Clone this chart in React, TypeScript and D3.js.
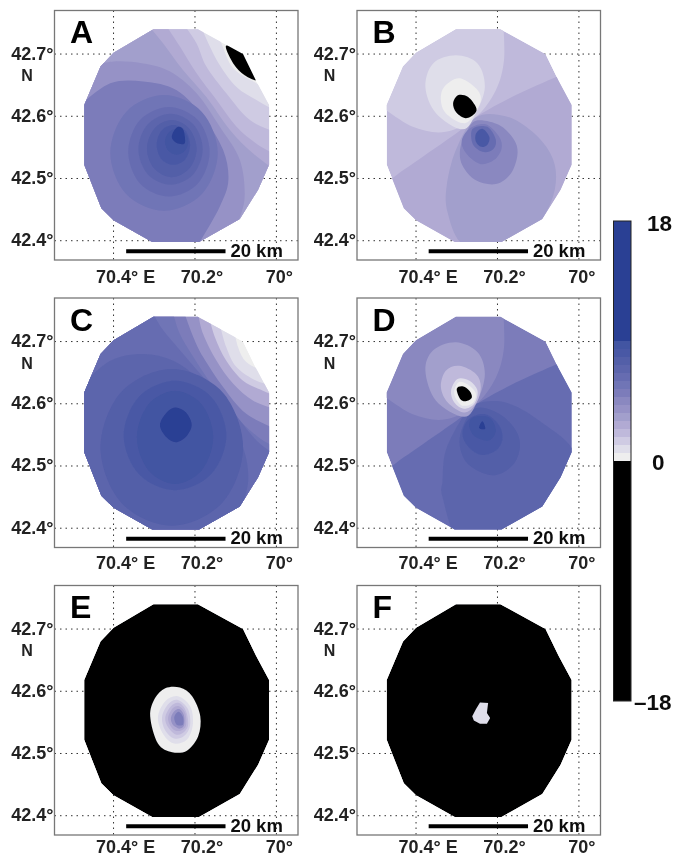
import React from "react";
import * as d3 from "d3";

type Pt = [number, number];
type Band = { v: number; pts: Pt[]; close?: Pt[]; straight?: boolean };

const lonTicks = [70.4, 70.2, 70.0];
const lonLabels = ["70.4° E", "70.2°", "70°"];
const lonLabelShift = [12, 7, 3];
const latTicks = [42.7, 42.6, 42.5, 42.4];
const latLabels = ["42.7°", "42.6°", "42.5°", "42.4°"];
const colorbarTicks = [18, 0, -18];
const colorbarLabels = ["18", "0", "–18"];

const thresholds = [0, 0.6, 1.2, 1.8, 2.4, 3, 3.6, 4.2, 4.8, 5.4, 6, 6.6, 7.2, 7.8, 8.4, 9];
const levelColors = ["#040506", "#eeeeee", "#dfdeea", "#cfcbe3", "#bfb9db", "#b1aad3", "#a29fcc", "#9692c6", "#8a88c0", "#7b7cba", "#7074b6", "#666cb1", "#5c65ac", "#525ea8", "#4a59a5", "#4255a2", "#2b3f94"];

const networkOutline: Pt[] = [[70.302,42.74],[70.193,42.74],[70.082,42.7],[70.05,42.657],[70.018,42.618],[70.018,42.522],[70.045,42.482],[70.09,42.435],[70.19,42.398],[70.305,42.398],[70.4,42.433],[70.43,42.452],[70.472,42.522],[70.472,42.618],[70.432,42.68],[70.4,42.702]];
const farCorners: Pt[] = [[69.93,42.33],[70.6,42.33],[70.6,42.78]];
const lowerCorners: Pt[] = [[69.93,42.33],[70.6,42.33],[70.6,42.489]];
const upperLeftCorners: Pt[] = [[70.6,42.78],[70.6,42.618]];

const sectorUpperLeft: Pt[] = [[70.49,42.618],[70.408,42.583],[70.327,42.575],[70.253,42.599],[70.204,42.642],[70.184,42.69],[70.186,42.749]];
const sectorLower: Pt[] = [[70.482,42.489],[70.449,42.505],[70.359,42.546],[70.286,42.58],[70.245,42.602],[70.155,42.634],[70.053,42.664],[69.984,42.682]];

const bandsA: Band[] = [
  { v: 0.3, pts: networkOutline, straight: true },
  { v: 0.9, close: farCorners, pts: [[70.155,42.749],[70.135,42.717],[70.106,42.677],[70.049,42.653],[69.992,42.634]] },
  { v: 1.5, close: farCorners, pts: [[70.188,42.749],[70.167,42.717],[70.139,42.682],[70.098,42.647],[70.049,42.626],[69.992,42.605]] },
  { v: 2.1, close: farCorners, pts: [[70.229,42.749],[70.196,42.717],[70.172,42.68],[70.123,42.637],[70.065,42.594],[69.992,42.572]] },
  { v: 2.7, close: farCorners, pts: [[70.274,42.749],[70.237,42.712],[70.196,42.669],[70.147,42.626],[70.098,42.583],[70.049,42.556],[69.992,42.535]] },
  { v: 3.3, close: farCorners, pts: [[70.318,42.749],[70.278,42.717],[70.229,42.674],[70.172,42.631],[70.114,42.578],[70.057,42.54],[69.992,42.508]] },
  { v: 3.9, close: farCorners, pts: [[70.457,42.68],[70.4,42.688],[70.327,42.685],[70.261,42.672],[70.196,42.637],[70.139,42.583],[70.09,42.53],[70.078,42.471],[70.094,42.428],[70.114,42.379]] },
  { v: 4.8, close: farCorners, pts: [[70.482,42.618],[70.408,42.653],[70.327,42.656],[70.245,42.642],[70.18,42.599],[70.131,42.546],[70.118,42.497],[70.139,42.455],[70.188,42.398],[70.212,42.374]] },
  { v: 5.7, pts: [[70.408,42.541],[70.369,42.607],[70.276,42.634],[70.183,42.607],[70.144,42.541],[70.183,42.475],[70.276,42.448],[70.369,42.475]] },
  { v: 6.3, pts: [[70.364,42.543],[70.335,42.594],[70.264,42.615],[70.193,42.594],[70.164,42.543],[70.193,42.492],[70.264,42.471],[70.335,42.492]] },
  { v: 6.9, pts: [[70.339,42.547],[70.316,42.587],[70.26,42.604],[70.204,42.587],[70.181,42.547],[70.204,42.507],[70.26,42.49],[70.316,42.507]] },
  { v: 7.5, pts: [[70.318,42.548],[70.3,42.58],[70.257,42.594],[70.214,42.58],[70.196,42.548],[70.214,42.516],[70.257,42.502],[70.3,42.516]] },
  { v: 8.1, pts: [[70.294,42.554],[70.282,42.577],[70.253,42.586],[70.224,42.577],[70.212,42.554],[70.224,42.531],[70.253,42.522],[70.282,42.531]] },
  { v: 8.7, pts: [[70.274,42.559],[70.265,42.574],[70.245,42.58],[70.225,42.574],[70.216,42.559],[70.225,42.544],[70.245,42.538],[70.265,42.544]] },
  { v: 10, pts: [[70.257,42.567],[70.245,42.582],[70.23,42.58],[70.225,42.567],[70.226,42.556],[70.245,42.557]] },
  { v: -1, pts: [[70.124,42.713],[70.09,42.706],[70.065,42.688],[70.047,42.659],[70.078,42.666],[70.106,42.685]] },
];

const bandsB: Band[] = [
  { v: 2.1, pts: networkOutline, straight: true },
  { v: 1.5, pts: sectorUpperLeft, close: upperLeftCorners },
  { v: 2.7, pts: sectorLower, close: lowerCorners },
  { v: 3.3, pts: [[70.253,42.598],[70.18,42.6],[70.114,42.575],[70.07,42.54],[70.056,42.503],[70.07,42.46],[70.114,42.417],[70.196,42.39],[70.286,42.395],[70.322,42.444],[70.325,42.487],[70.302,42.546]] },
  { v: 4.5, pts: [[70.253,42.593],[70.196,42.586],[70.159,42.562],[70.151,42.538],[70.167,42.508],[70.204,42.491],[70.253,42.497],[70.286,42.521],[70.292,42.546],[70.278,42.572]] },
  { v: 5.1, pts: [[70.269,42.58],[70.229,42.587],[70.196,42.567],[70.19,42.548],[70.208,42.53],[70.241,42.523],[70.274,42.538],[70.288,42.559]] },
  { v: 6.3, pts: [[70.261,42.58],[70.225,42.583],[70.204,42.562],[70.212,42.546],[70.237,42.543],[70.261,42.556]] },
  { v: 8.1, pts: [[70.253,42.572],[70.237,42.58],[70.22,42.567],[70.225,42.554],[70.241,42.551],[70.253,42.559]] },
  { v: 0.9, pts: [[70.377,42.647],[70.358,42.685],[70.302,42.698],[70.249,42.685],[70.231,42.647],[70.253,42.605],[70.286,42.579],[70.351,42.605]] },
  { v: 0.3, pts: [[70.339,42.626],[70.331,42.647],[70.294,42.661],[70.253,42.645],[70.241,42.626],[70.261,42.599],[70.286,42.589],[70.327,42.605]] },
  { v: -1, pts: [[70.309,42.621],[70.296,42.634],[70.272,42.631],[70.253,42.615],[70.255,42.605],[70.278,42.597],[70.301,42.606]] },
];

const bandsC: Band[] = [
  { v: 0.3, pts: networkOutline, straight: true },
  { v: 0.9, close: farCorners, pts: [[70.106,42.728],[70.094,42.691],[70.074,42.667],[70.033,42.653],[69.992,42.643]] },
  { v: 1.5, close: farCorners, pts: [[70.139,42.728],[70.123,42.691],[70.098,42.659],[70.049,42.637],[69.992,42.627]] },
  { v: 2.7, close: farCorners, pts: [[70.167,42.744],[70.151,42.707],[70.123,42.669],[70.082,42.637],[70.033,42.621],[69.992,42.61]] },
  { v: 3.9, close: farCorners, pts: [[70.192,42.744],[70.18,42.712],[70.147,42.669],[70.106,42.632],[70.057,42.605],[69.992,42.589]] },
  { v: 5.1, close: farCorners, pts: [[70.225,42.744],[70.204,42.707],[70.18,42.675],[70.131,42.627],[70.074,42.584],[69.992,42.557]] },
  { v: 5.7, close: farCorners, pts: [[70.253,42.744],[70.237,42.712],[70.204,42.675],[70.155,42.627],[70.09,42.573],[70.033,42.541],[69.992,42.53]] },
  { v: 6.3, close: farCorners, pts: [[70.302,42.744],[70.278,42.718],[70.237,42.686],[70.18,42.643],[70.114,42.594],[70.049,42.541],[69.992,42.514]] },
  { v: 6.9, close: farCorners, pts: [[70.482,42.627],[70.408,42.669],[70.327,42.68],[70.253,42.669],[70.188,42.637],[70.123,42.584],[70.082,42.53],[70.069,42.482],[70.082,42.439],[70.114,42.369]] },
  { v: 7.5, pts: [[70.432,42.53],[70.381,42.619],[70.257,42.656],[70.133,42.619],[70.082,42.53],[70.133,42.441],[70.257,42.404],[70.381,42.441]] },
  { v: 8.1, pts: [[70.375,42.549],[70.338,42.611],[70.249,42.637],[70.16,42.611],[70.123,42.549],[70.16,42.487],[70.249,42.461],[70.338,42.487]] },
  { v: 8.7, pts: [[70.343,42.546],[70.315,42.599],[70.249,42.621],[70.183,42.599],[70.155,42.546],[70.183,42.493],[70.249,42.471],[70.315,42.493]] },
  { v: 10, pts: [[70.286,42.566],[70.268,42.587],[70.247,42.594],[70.222,42.586],[70.208,42.566],[70.222,42.547],[70.247,42.538],[70.27,42.546]] },
];

const bandsD: Band[] = [
  { v: 5.1, pts: networkOutline, straight: true },
  { v: 4.5, pts: sectorUpperLeft, close: upperLeftCorners },
  { v: 6.3, pts: sectorLower, close: lowerCorners },
  { v: 6.9, pts: [[70.253,42.6],[70.18,42.602],[70.098,42.573],[70.008,42.514],[70.057,42.418],[70.196,42.375],[70.294,42.38],[70.335,42.45],[70.335,42.476],[70.327,42.525],[70.286,42.578]] },
  { v: 7.5, pts: [[70.253,42.593],[70.196,42.584],[70.155,42.557],[70.145,42.53],[70.163,42.501],[70.212,42.485],[70.269,42.501],[70.292,42.53],[70.286,42.562]] },
  { v: 8.1, pts: [[70.269,42.576],[70.229,42.583],[70.196,42.565],[70.188,42.543],[70.204,42.525],[70.241,42.518],[70.274,42.533],[70.286,42.554]] },
  { v: 8.7, pts: [[70.261,42.578],[70.22,42.578],[70.204,42.557],[70.22,42.541],[70.253,42.546],[70.269,42.562]] },
  { v: 10, pts: [[70.245,42.561],[70.237,42.572],[70.23,42.56]] },
  { v: 3.3, pts: [[70.377,42.653],[70.358,42.686],[70.302,42.699],[70.249,42.683],[70.231,42.648],[70.249,42.605],[70.282,42.579],[70.351,42.605]] },
  { v: 2.1, pts: [[70.339,42.627],[70.327,42.653],[70.294,42.661],[70.253,42.648],[70.241,42.627],[70.253,42.6],[70.282,42.586],[70.322,42.602]] },
  { v: 0.9, pts: [[70.314,42.621],[70.298,42.64],[70.269,42.637],[70.249,42.621],[70.257,42.6],[70.282,42.592],[70.306,42.602]] },
  { v: 0.3, pts: [[70.306,42.621],[70.294,42.635],[70.269,42.629],[70.253,42.616],[70.261,42.601],[70.286,42.597],[70.302,42.608]] },
  { v: -1, pts: [[70.3,42.624],[70.286,42.628],[70.269,42.621],[70.263,42.61],[70.278,42.604],[70.292,42.608]] },
];

const bandsE: Band[] = [
  { v: -1, pts: networkOutline, straight: true },
  { v: 0.3, pts: [[70.31,42.56],[70.298,42.589],[70.273,42.605],[70.237,42.606],[70.207,42.592],[70.187,42.56],[70.192,42.528],[70.219,42.505],[70.256,42.502],[70.291,42.516]] },
  { v: 0.9, pts: [[70.291,42.558],[70.273,42.584],[70.242,42.592],[70.212,42.576],[70.205,42.548],[70.219,42.523],[70.251,42.516],[70.278,42.531]] },
  { v: 1.5, pts: [[70.281,42.558],[70.266,42.579],[70.242,42.586],[70.217,42.571],[70.212,42.545],[70.227,42.528],[70.251,42.524],[70.273,42.537]] },
  { v: 2.1, pts: [[70.273,42.558],[70.259,42.576],[70.239,42.581],[70.222,42.568],[70.217,42.545],[70.232,42.532],[70.249,42.531],[70.266,42.542]] },
  { v: 2.7, pts: [[70.266,42.558],[70.254,42.573],[70.239,42.576],[70.224,42.565],[70.222,42.545],[70.234,42.537],[70.249,42.537],[70.261,42.545]] },
  { v: 3.9, pts: [[70.259,42.558],[70.249,42.569],[70.237,42.571],[70.227,42.561],[70.227,42.545],[70.237,42.54],[70.246,42.542],[70.256,42.548]] },
  { v: 5.1, pts: [[70.251,42.558],[70.244,42.566],[70.237,42.566],[70.229,42.558],[70.229,42.547],[70.237,42.545],[70.246,42.547]] },
];

const bandsF: Band[] = [
  { v: -1, pts: networkOutline, straight: true },
  { v: 0.9, straight: true, pts: [[70.262,42.56],[70.253,42.571],[70.243,42.582],[70.223,42.581],[70.226,42.565],[70.218,42.557],[70.226,42.548],[70.243,42.548],[70.258,42.553]] },
];

const panelNames = ["A", "B", "C", "D", "E", "F"];
const panelBands = [bandsA, bandsB, bandsC, bandsD, bandsE, bandsF];
const panelLefts = [54.5, 357, 54.5, 357, 54.5, 357];
const panelTops = [10.5, 10.5, 298, 298, 585.5, 585.5];
const lonLabelDrops = [23, 23, 21, 21, 18, 18];

const W = 243.5;
const H = 249.5;
const FONT = "'Liberation Sans', Arial, sans-serif";
const color = d3.scaleThreshold<number, string>().domain(thresholds).range(levelColors);

function Panel({ index }: { index: number }) {
  const left = panelLefts[index];
  const top = panelTops[index];
  const x = d3.scaleLinear().domain([70.545, 69.947]).range([left, left + W]);
  const y = d3.scaleLinear().domain([42.77, 42.369]).range([top, top + H]);
  const name = panelNames[index];
  const gen = (curve: d3.CurveFactory) =>
    d3.line<Pt>().x((d) => x(d[0])).y((d) => y(d[1])).curve(curve);
  const closedSmooth = gen(d3.curveCatmullRomClosed.alpha(0));
  const openSmooth = gen(d3.curveCatmullRom.alpha(0));
  const straight = gen(d3.curveLinearClosed);
  const pathOf = (b: Band) => {
    if (b.close) {
      const tail = b.close.map((p) => `L${x(p[0])},${y(p[1])}`).join("");
      return `${openSmooth(b.pts)}${tail}Z`;
    }
    return (b.straight ? straight(b.pts) : closedSmooth(b.pts)) as string;
  };
  const clipId = `clip-${name}`;
  return (
    <g>
      <defs>
        <clipPath id={clipId}>
          <path d={straight(networkOutline) as string} />
        </clipPath>
      </defs>
      <rect x={left} y={top} width={W} height={H} fill="#fff" />
      {lonTicks.map((t) => (
        <line key={t} x1={x(t)} x2={x(t)} y1={top} y2={top + H} stroke="#333" strokeWidth={1} strokeDasharray="1.5 4" />
      ))}
      {latTicks.map((t) => (
        <line key={t} x1={left} x2={left + W} y1={y(t)} y2={y(t)} stroke="#333" strokeWidth={1} strokeDasharray="1.5 4" />
      ))}
      <g clipPath={`url(#${clipId})`}>
        {panelBands[index].map((b, i) => (
          <path key={i} d={pathOf(b)} fill={color(b.v)} />
        ))}
      </g>
      <rect x={left} y={top} width={W} height={H} fill="none" stroke="#777" strokeWidth={1.3} />
      <line x1={x(70.369)} x2={x(70.125)} y1={y(42.383)} y2={y(42.383)} stroke="#000" strokeWidth={4} />
      <text x={x(70.113)} y={y(42.374)} fontSize={18.5} fontWeight={700} fontFamily={FONT} fill="#111">20 km</text>
      <text x={left + 15.5} y={top + 32.5} fontSize={32} fontWeight={700} fontFamily={FONT} fill="#000">{name}</text>
      {latTicks.map((t, i) => (
        <text key={t} x={left - 1} y={y(t) + 5.5} textAnchor="end" fontSize={18} fontWeight={700} fontFamily={FONT} fill="#222">{latLabels[i]}</text>
      ))}
      <text x={left - 27.5} y={y(42.7) + 27} textAnchor="middle" fontSize={16} fontWeight={700} fontFamily={FONT} fill="#222">N</text>
      {lonTicks.map((t, i) => (
        <text key={t} x={x(t) + lonLabelShift[i]} y={top + H + lonLabelDrops[index]} textAnchor="middle" fontSize={18} fontWeight={700} fontFamily={FONT} fill="#222">{lonLabels[i]}</text>
      ))}
    </g>
  );
}

function ColorBar() {
  const y = d3.scaleLinear().domain([-18, 18]).range([701, 221]);
  const edges = [-18, ...thresholds, 18];
  return (
    <g>
      {levelColors.map((c, i) => (
        <rect key={i} x={613.5} width={17.5} y={y(edges[i + 1])} height={y(edges[i]) - y(edges[i + 1])} fill={c} />
      ))}
      <rect x={613.5} y={221} width={17.5} height={480} fill="none" stroke="#222" strokeWidth={1} />
      {colorbarTicks.map((t, i) => (
        <text key={t} x={i === 2 ? 634 : i === 1 ? 652 : 647} y={y(t) + (i === 0 ? 10 : 9)} fontSize={22.5} fontWeight={700} fontFamily={FONT} fill="#111">{colorbarLabels[i]}</text>
      ))}
    </g>
  );
}

export default function App() {
  return (
    <svg width={673} height={857} style={{ position: "absolute", left: 0, top: 0, display: "block", background: "#fff" }}>
      <defs>
        <filter id="soft" x="0" y="0" width="673" height="857" filterUnits="userSpaceOnUse">
          <feGaussianBlur stdDeviation={0.6} />
        </filter>
      </defs>
      <g filter="url(#soft)">
        <rect width={673} height={857} fill="#fff" />
        {panelNames.map((_, i) => (
          <Panel key={i} index={i} />
        ))}
        <ColorBar />
      </g>
    </svg>
  );
}
